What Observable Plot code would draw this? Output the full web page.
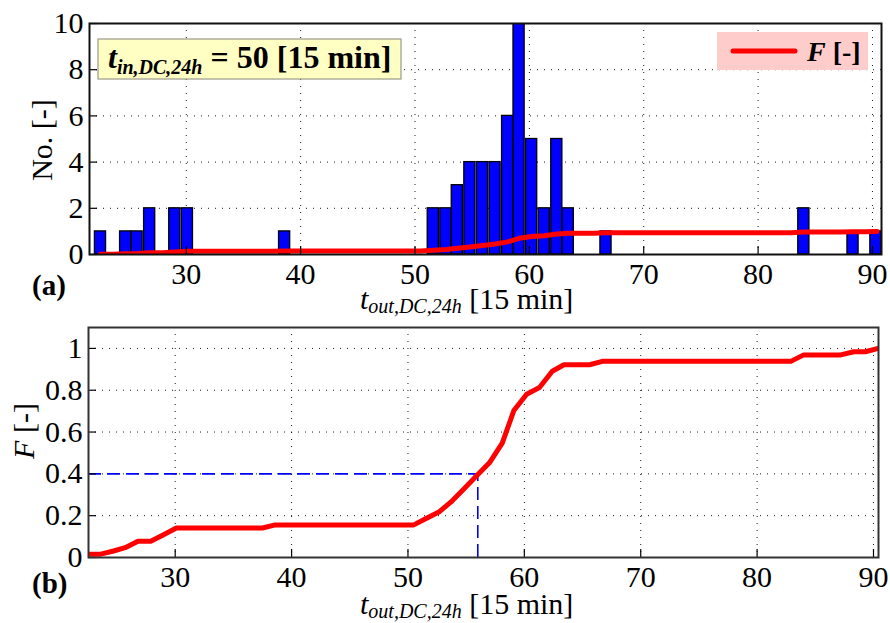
<!DOCTYPE html>
<html><head><meta charset="utf-8">
<script src="https://cdn.jsdelivr.net/npm/d3@7"></script>
<script src="https://cdn.jsdelivr.net/npm/@observablehq/plot@0.6"></script>
<style>
body{margin:0;background:#fff;}
#chart{width:890px;height:623px;position:relative;overflow:hidden;}
#chart svg{display:block;}
</style></head><body><div id="chart"></div>
<script>
// histogram bins (centres in 15-min units) and counts
const binCenters = [22.5, 24.7, 25.7, 26.8, 29.0, 30.1, 38.6, 51.6, 52.7, 53.7, 54.8, 55.9, 57.0, 58.1, 59.1, 60.2, 61.3, 62.4, 63.4, 66.7, 84.0, 88.3, 90.3];
const counts     = [1, 1, 1, 2, 2, 2, 1, 2, 2, 3, 4, 4, 4, 6, 10, 5, 2, 5, 2, 1, 2, 1, 1];
const binWidth = 1.08;
// cumulative distribution F (vertices of the red curve)
const cdfX = [22.5, 23.6, 24.7, 25.7, 26.8, 27.9, 29.0, 30.1, 37.5, 38.6, 50.5, 51.6, 52.7, 53.7, 54.8, 55.9, 57.0, 58.1, 59.1, 60.2, 61.3, 62.4, 63.4, 65.6, 66.7, 82.9, 84.0, 87.2, 88.3, 89.3, 90.4];
const cdfF = [0.016, 0.016, 0.031, 0.047, 0.078, 0.078, 0.109, 0.141, 0.141, 0.156, 0.156, 0.188, 0.219, 0.266, 0.328, 0.391, 0.453, 0.547, 0.703, 0.781, 0.813, 0.891, 0.922, 0.922, 0.938, 0.938, 0.969, 0.969, 0.984, 0.984, 1.0];
const xTicks = [30, 40, 50, 60, 70, 80, 90];
const yTicksA = [0, 2, 4, 6, 8, 10];
const yTicksB = [0, 0.2, 0.4, 0.6, 0.8, 1];
const yTickLabelsB = ["0", "0.2", "0.4", "0.6", "0.8", "1"];
const tIn = 50;
const markF = 0.4, markX = 56;

const bars = binCenters.map((c, i) => ({c, n: counts[i]}));
const cdf = cdfX.map((x, i) => ({x, F: cdfF[i]}));

const FONT = "'Liberation Serif', 'Times New Roman', serif";
const gridStyle = {stroke: "#000", strokeOpacity: 0.9, strokeWidth: 1, strokeDasharray: "1,6"};

// ---------- panel (a) ----------
const W = 890;
const A = {h: 320, mt: 23, mb: 66, ml: 89, mr: 9};
const plotWA = W - A.ml - A.mr, plotHA = A.h - A.mt - A.mb;
const panelA = Plot.plot({
  width: W, height: A.h,
  marginTop: A.mt, marginBottom: A.mb, marginLeft: A.ml, marginRight: A.mr,
  x: {domain: [21.54, 90.79]},
  y: {domain: [0, 10]},
  style: {fontFamily: FONT, fontSize: "30px", color: "#000", background: "#fff", overflow: "visible"},
  marks: [
    Plot.gridX(xTicks, gridStyle),
    Plot.gridY(yTicksA, gridStyle),
    Plot.rectY(bars, {x1: d => d.c - binWidth / 2, x2: d => d.c + binWidth / 2, y: "n",
      insetLeft: 0.6, insetRight: 0.6, fill: "#0000ff", stroke: "#000", strokeWidth: 1.3, clip: true}),
    Plot.line(cdf, {x: "x", y: "F", stroke: "#ff0000", strokeWidth: 5, clip: true}),
    Plot.tickX(xTicks, {x: d => d, insetTop: plotHA - 8, stroke: "#000", strokeWidth: 1.2}),
    Plot.tickY(yTicksA, {y: d => d, insetRight: plotWA - 8, stroke: "#000", strokeWidth: 1.2}),
    Plot.frame({stroke: "#111", strokeWidth: 2}),
    Plot.axisX(xTicks, {tickSize: 0, tickPadding: 8, label: null, fontSize: 30}),
    Plot.axisY(yTicksA, {tickSize: 0, tickPadding: 6, label: null, fontSize: 30})
  ]
});

// ---------- panel (b) ----------
const B = {h: 303, mt: 7, mb: 66, ml: 88, mr: 12};
const plotWB = W - B.ml - B.mr, plotHB = B.h - B.mt - B.mb;
const panelB = Plot.plot({
  width: W, height: B.h,
  marginTop: B.mt, marginBottom: B.mb, marginLeft: B.ml, marginRight: B.mr,
  x: {domain: [22.55, 90.43]},
  y: {domain: [0, 1.1]},
  style: {fontFamily: FONT, fontSize: "30px", color: "#000", background: "#fff", overflow: "visible"},
  marks: [
    Plot.gridX(xTicks, gridStyle),
    Plot.gridY(yTicksB, gridStyle),
    Plot.ruleY([markF], {x1: 22.55, x2: markX, stroke: "#0000ff", strokeWidth: 1.6, strokeDasharray: "13,6"}),
    Plot.ruleX([markX], {y1: 0, y2: markF, stroke: "#0000ff", strokeWidth: 1.6, strokeDasharray: "13,6"}),
    Plot.line(cdf, {x: "x", y: "F", stroke: "#ff0000", strokeWidth: 5, clip: true}),
    Plot.tickX(xTicks, {x: d => d, insetTop: plotHB - 8, stroke: "#000", strokeWidth: 1.2}),
    Plot.tickY(yTicksB, {y: d => d, insetRight: plotWB - 8, stroke: "#000", strokeWidth: 1.2}),
    Plot.frame({stroke: "#333", strokeWidth: 2}),
    Plot.axisX(xTicks, {tickSize: 0, tickPadding: 8, label: null, fontSize: 30}),
    Plot.axisY(yTicksB, {tickSize: 0, tickPadding: 6, label: null, fontSize: 30,
      tickFormat: d => yTickLabelsB[yTicksB.indexOf(d)]})
  ]
});

const chart = document.getElementById("chart");
chart.appendChild(panelA);
chart.appendChild(panelB);

// ---------- rich text (labels, annotation, legend) ----------
function xLabel(svg, x, y) {
  const t = d3.select(svg).append("text").attr("text-anchor", "start")
    .attr("x", x).attr("y", y).attr("font-family", FONT).attr("font-size", 30).attr("fill", "#000");
  t.append("tspan").attr("font-style", "italic").text("t");
  t.append("tspan").attr("font-style", "italic").attr("font-size", 20).attr("dy", 4).text("out,DC,24h");
  t.append("tspan").attr("dy", -4).text("\u00a0[15 min]");
}
function yLabel(svg, x, y, parts) {
  const t = d3.select(svg).append("text")
    .attr("transform", `translate(${x},${y}) rotate(-90)`)
    .attr("text-anchor", "middle").attr("font-family", FONT).attr("font-size", 30).attr("fill", "#000");
  parts.forEach(p => t.append("tspan").attr("font-style", p.italic ? "italic" : null).text(p.s));
}
function panelTag(svg, x, y, s) {
  d3.select(svg).append("text").attr("text-anchor", "start").attr("x", x).attr("y", y)
    .attr("font-family", FONT).attr("font-size", 29).attr("font-weight", "bold").attr("fill", "#000").text(s);
}

xLabel(panelA, 360, 309);
yLabel(panelA, 52, 140, [{s: "No. [-]"}]);
panelTag(panelA, 32, 295, "(a)");

xLabel(panelB, 360, 294);
yLabel(panelB, 34, 111, [{s: "F", italic: true}, {s: " [-]"}]);
panelTag(panelB, 32, 273, "(b)");

// annotation box in panel (a)
const sa = d3.select(panelA);
sa.append("rect").attr("x", 98).attr("y", 39).attr("width", 303).attr("height", 40)
  .attr("fill", "#ffffc4").attr("stroke", "#9a9a8a").attr("stroke-width", 1.2);
const at = sa.append("text").attr("text-anchor", "start").attr("x", 108).attr("y", 68)
  .attr("font-family", FONT).attr("font-size", 32).attr("font-weight", "bold").attr("fill", "#000");
at.append("tspan").attr("font-style", "italic").text("t");
at.append("tspan").attr("font-style", "italic").attr("font-size", 20).attr("dy", 6).text("in,DC,24h");
at.append("tspan").attr("dy", -6).text(`\u00a0= ${tIn} [15 min]`);

// legend in panel (a)
sa.append("rect").attr("x", 717).attr("y", 32).attr("width", 151).attr("height", 38).attr("fill", "#ffcccc");
sa.append("line").attr("x1", 733).attr("x2", 795).attr("y1", 51).attr("y2", 51)
  .attr("stroke", "#ff0000").attr("stroke-width", 5).attr("stroke-linecap", "round");
const lt = sa.append("text").attr("text-anchor", "start").attr("x", 807).attr("y", 61)
  .attr("font-family", FONT).attr("font-size", 28).attr("font-weight", "bold").attr("fill", "#000");
lt.append("tspan").attr("font-style", "italic").text("F");
lt.append("tspan").text("\u00a0[-]");
</script>
</body></html>
